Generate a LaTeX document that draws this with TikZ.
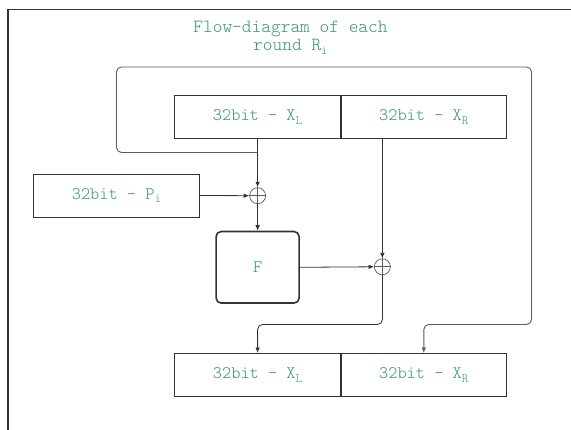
\documentclass[tikz,border=0pt]{standalone}
\usepackage{fontspec}
\newfontfamily\cour{lmmonolt10-regular.otf}
\usetikzlibrary{arrows.meta,calc}
\definecolor{txtgreen}{HTML}{3A9670}
\definecolor{linegray}{HTML}{333333}
\definecolor{loopgray}{HTML}{5A5A5A}
\newcommand\mysub[1]{\raisebox{-0.5ex}{\fontsize{12.5}{12.5}\selectfont #1}}
\tikzset{
  lbl/.style={text=txtgreen, font=\cour\fontsize{17.5}{18}\selectfont},
  regbox/.style={lbl, draw=linegray, line width=0.9pt, minimum width=165.7pt, minimum height=43pt, inner sep=0pt},
  fbox/.style={lbl, draw=linegray, line width=1.6pt, rounded corners=5pt, minimum width=83pt, minimum height=71.5pt, inner sep=0pt},
  xorc/.style={draw=loopgray, line width=0.7pt, circle, minimum size=16pt, inner sep=0pt},
  conn/.style={draw=linegray, line width=0.8pt, -{Latex[length=5.5pt,width=4.5pt]}},
  loopline/.style={draw=loopgray, line width=0.9pt, rounded corners=5pt, -{Latex[length=5.5pt,width=4.5pt]}},
}
\begin{document}
\begin{tikzpicture}[x=1pt,y=-1pt]
\useasboundingbox (0,0) rectangle (571,430);
\clip (0,0) rectangle (571,430);
\fill[white] (0,0) rectangle (571,430);
% outer frame (open to right and bottom)
\draw[linegray, line width=1.2pt] (8,440) -- (8,9.5) -- (580,9.5);
% title
\node[text=txtgreen, font=\cour\fontsize{18.5}{18}\selectfont, align=center] (title) at (290.5,38) {Flow-diagram of each\\round R\mysub{i}};
% boxes
\node[regbox] (xlt) at (257.6,117) {32bit - X\mysub{L}};
\node[regbox] (xrt) at (423.8,117) {32bit - X\mysub{R}};
\node[regbox] (pi) at (116.5,195.5) {32bit - P\mysub{i}};
\node[xorc] (xor1) at (257.6,195.7) {};
\node[fbox] (F) at (257.6,267.3) {F};
\node[xorc] (xor2) at (382.4,266.8) {};
\node[regbox] (xlb) at (257.6,375) {32bit - X\mysub{L}};
\node[regbox] (xrb) at (423.8,375) {32bit - X\mysub{R}};
% xor crosses
\draw[loopgray, line width=0.6pt] (xor1.north) -- (xor1.south) (xor1.west) -- (xor1.east);
\draw[loopgray, line width=0.6pt] (xor2.north) -- (xor2.south) (xor2.west) -- (xor2.east);
% coordinates for bends
\coordinate (lp) at (257.6,152.5);
\coordinate (c1) at (116.5,152.5);
\coordinate (c2) at (116.5,67);
\coordinate (c3) at (531.5,67);
\coordinate (c4) at (531.5,324.5);
\coordinate (c5) at (423.8,324.5);
\coordinate (d1) at (382.4,324.5);
\coordinate (d2) at (257.6,324.5);
% connectors
\draw[conn] (xlt.south) -- (xor1.north);
\draw[conn] (pi.east) -- (xor1.west);
\draw[conn] (xor1.south) -- (F.north);
\draw[conn] (xor2 |- xrt.south) -- (xor2.north);
\draw[conn] (F.east) -- (xor2.west);
\draw[conn, rounded corners=5pt] (xor2.south) -- (d1) -- (d2) -- (xlb.north);
\draw[loopline] (lp) -- (c1) -- (c2) -- (c3) -- (c4) -- (c5) -- (xrb.north);
\end{tikzpicture}
\end{document}
